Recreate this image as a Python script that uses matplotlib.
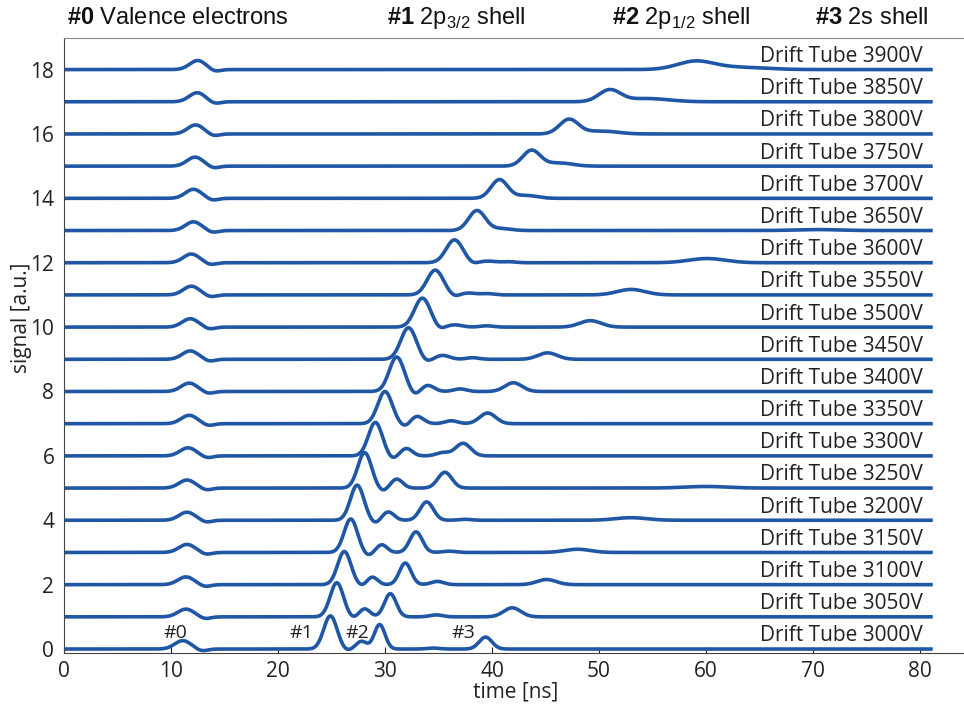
import matplotlib
matplotlib.use("Agg")
import matplotlib.pyplot as plt
import numpy as np

plt.rcParams['font.family'] = ['Open Sans', 'DejaVu Sans']
plt.rcParams['mathtext.fontset'] = 'custom'
plt.rcParams['mathtext.rm'] = 'Liberation Sans'
plt.rcParams['mathtext.bf'] = 'Liberation Sans:bold'

voltages = [3000, 3050, 3100, 3150, 3200, 3250, 3300, 3350, 3400, 3450,
            3500, 3550, 3600, 3650, 3700, 3750, 3800, 3850, 3900]

# peak #0, valence electrons
val_pos = [11.1, 11.4, 11.4, 11.5, 11.5, 11.5, 11.6, 11.7, 11.7, 11.8,
           11.8, 11.9, 11.9, 12.1, 12.1, 12.25, 12.3, 12.45, 12.5]
val_amp = [0.26, 0.24, 0.24, 0.25, 0.25, 0.25, 0.25, 0.26, 0.26, 0.26,
           0.26, 0.27, 0.27, 0.27, 0.28, 0.28, 0.28, 0.28, 0.28]
val_dip = [12.9, 13.2, 13.2, 13.3, 13.3, 13.3, 13.4, 13.5, 13.5, 13.6,
           13.6, 13.7, 13.7, 13.9, 13.9, 14.0, 14.0, 14.1, 14.1]

# peak #1, 2p3/2 (main line)
p32_pos = [24.9, 25.5, 26.2, 26.8, 27.4, 28.1, 29.1, 30.0, 31.1, 32.2,
           33.5, 34.7, 36.5, 38.6, 40.7, 43.7, 47.2, 51.0, 59.0]
p32_amp = [1.03, 1.06, 1.03, 1.04, 1.09, 1.10, 1.04, 1.00, 1.07, 0.98,
           0.90, 0.77, 0.71, 0.62, 0.58, 0.49, 0.45, 0.36, 0.25]
p32_wid = [0.62, 0.62, 0.62, 0.62, 0.63, 0.64, 0.65, 0.67, 0.70, 0.72,
           0.74, 0.76, 0.78, 0.78, 0.78, 0.82, 0.88, 1.0, 1.7]

# undershoot right after the main line
dip_pos = [26.4, 27.0, 27.9, 28.4, 29.1, 29.8, 30.7, 31.9, 32.8, 33.9,
           35.1, 36.5, 38.2, np.nan, np.nan, np.nan, np.nan, np.nan, np.nan]
dip_amp = [-0.05, -0.05, -0.06, -0.10, -0.10, -0.10, -0.10, -0.10, -0.12, -0.08,
           -0.08, -0.06, -0.05, 0, 0, 0, 0, 0, 0]

# peak #2, 2p1/2
p12_pos = [27.8, 28.1, 28.8, 29.7, 30.3, 31.1, 32.0, 33.0, 34.0, 35.4,
           36.5, 37.8, 39.6, 40.9, 43.2, 46.3, 50.2, 54.5, 63.0]
p12_amp = [0.24, 0.25, 0.24, 0.24, 0.26, 0.28, 0.23, 0.23, 0.19, 0.12,
           0.07, 0.06, 0.05, 0.06, 0.09, 0.10, 0.09, 0.10, 0.07]
p12_wid = [0.5, 0.5, 0.5, 0.5, 0.55, 0.55, 0.55, 0.6, 0.6, 0.65,
           0.7, 0.7, 0.8, 0.9, 1.0, 1.2, 1.5, 2.0, 2.5]

# strong secondary line
sec_pos = [29.5, 30.5, 31.9, 32.9, 33.9, 35.6, 37.3, 39.6, 42.0, 45.2,
           49.2, 53.0, 60.1, 70.4, np.nan, np.nan, np.nan, np.nan, np.nan]
sec_amp = [0.76, 0.72, 0.67, 0.64, 0.57, 0.49, 0.39, 0.33, 0.27, 0.20,
           0.20, 0.17, 0.13, 0.03, 0, 0, 0, 0, 0]
sec_wid = [0.5, 0.55, 0.55, 0.58, 0.62, 0.65, 0.7, 0.75, 0.8, 0.9,
           1.0, 1.3, 1.7, 2.0, 1, 1, 1, 1, 1]

# peak #3, 2s
s2_pos = [39.4, 41.9, 45.1, 48.0, 53.0, 60.0, np.nan, np.nan, np.nan, np.nan,
          np.nan, np.nan, np.nan, np.nan, np.nan, np.nan, np.nan, np.nan, np.nan]
s2_amp = [0.37, 0.28, 0.16, 0.10, 0.08, 0.05, 0, 0, 0, 0,
          0, 0, 0, 0, 0, 0, 0, 0, 0]
s2_wid = [0.6, 0.8, 0.9, 1.2, 1.5, 2.0, 1, 1, 1, 1,
          1, 1, 1, 1, 1, 1, 1, 1, 1]

# small satellite bumps
sat_pos = [34.5, 34.8, 34.9, 36.0, 37.5, np.nan, 35.4, 36.2, 37.0, 38.2,
           39.5, 39.6, 41.6, np.nan, np.nan, np.nan, np.nan, np.nan, np.nan]
sat_amp = [0.03, 0.06, 0.10, 0.04, 0.03, 0, 0.10, 0.09, 0.08, 0.05,
           0.04, 0.04, 0.03, 0, 0, 0, 0, 0, 0]

peak_labels = ['#0', '#1', '#2', '#3']
peak_label_x = [10.4, 22.2, 27.4, 37.3]


def bump(t, pos, amp, wid):
    if np.isnan(pos):
        return np.zeros_like(t)
    return amp * np.exp(-0.5 * ((t - pos) / wid) ** 2)


t = np.linspace(0, 81.2, 2000)
color = '#1f57a5'

fig = plt.figure(figsize=(9.64, 7.04), dpi=100)
# frame runs past the right edge of the canvas
ax = fig.add_axes([0.0664, 0.0724, 0.95, 0.8736])

for i, v in enumerate(voltages):
    y = (bump(t, val_pos[i], val_amp[i], 0.75)
         + bump(t, val_dip[i], -0.06, 0.5)
         + bump(t, p32_pos[i], p32_amp[i], p32_wid[i])
         + bump(t, dip_pos[i], dip_amp[i], 0.45)
         + bump(t, p12_pos[i], p12_amp[i], p12_wid[i])
         + bump(t, sec_pos[i], sec_amp[i], sec_wid[i])
         + bump(t, s2_pos[i], s2_amp[i], s2_wid[i])
         + bump(t, sat_pos[i], sat_amp[i], 0.6))
    ax.plot(t, y + i, color=color, linewidth=2.6, solid_capstyle='butt')
    ax.text(80.3, i + 0.08, 'Drift Tube %dV' % v, ha='right', va='bottom',
            fontsize=15, color='#222222')

for lab, x in zip(peak_labels, peak_label_x):
    ax.text(x, 0.5, lab, ha='center', va='center', fontsize=14, color='#222222')

ax.set_xlim(0, 85.6)
ax.set_ylim(-0.124, 18.98)
ax.set_xticks(np.arange(0, 81, 10))
ax.set_yticks(np.arange(0, 19, 2))
ax.tick_params(direction='in', length=4, width=0.8, labelsize=15,
               colors='#222222', top=False, right=False)
ax.tick_params(axis='x', pad=6)
ax.tick_params(axis='y', pad=7)
ax.spines['right'].set_visible(False)
ax.spines['top'].set_color('#888888')
ax.spines['left'].set_color('#444444')
ax.spines['bottom'].set_color('#444444')

fig.text(22 / 964, 1 - 318 / 704, 'signal [a.u.]', rotation=90, ha='center',
         va='center', fontsize=15, color='#222222')
fig.text(516 / 964, 1 - 692 / 704, 'time [ns]', ha='center', va='center',
         fontsize=15, color='#222222')

# shell legend above the frame
top_y = 1 - 18 / 704
fig.text(67 / 964, top_y, r'$\mathbf{\#0}$ Valence electrons', family='Liberation Sans',
         fontsize=17, va='center', color='#111111')
fig.text(387 / 964, top_y, r'$\mathbf{\#1}$ 2p$_\mathrm{3/2}$ shell', family='Liberation Sans',
         fontsize=17, va='center', color='#111111')
fig.text(612 / 964, top_y, r'$\mathbf{\#2}$ 2p$_\mathrm{1/2}$ shell', family='Liberation Sans',
         fontsize=17, va='center', color='#111111')
fig.text(815 / 964, top_y, r'$\mathbf{\#3}$ 2s shell', family='Liberation Sans',
         fontsize=17, va='center', color='#111111')

fig.savefig('out.png', dpi=100)
